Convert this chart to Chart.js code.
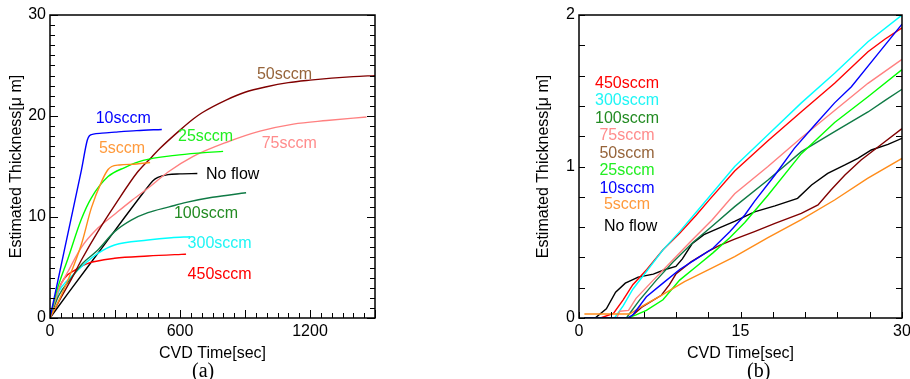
<!DOCTYPE html>
<html>
<head>
<meta charset="utf-8">
<script src="https://cdn.jsdelivr.net/npm/chart.js@4.4.1/dist/chart.umd.min.js"></script>
<style>
  html, body { margin: 0; padding: 0; background: #fff; width: 910px; height: 379px; overflow: hidden; }
  #wrapA { position: absolute; left: 0; top: 0; width: 395px; height: 379px; }
  #wrapB { position: absolute; left: 520px; top: 0; width: 400px; height: 379px; }
  .cap { position: absolute; top: 360px; line-height: 20px; font-family: "Liberation Serif", "Times New Roman", serif; font-size: 20px; color: #000; }
</style>
</head>
<body>
<div id="wrapA"><canvas id="chartA"></canvas></div>
<div id="wrapB"><canvas id="chartB"></canvas></div>
<div class="cap" style="left:192px">(a)</div>
<div class="cap" style="left:747px">(b)</div>
<script>
// ---------- panel (a): long runs, CVD time [sec] vs thickness [um] ----------
const flowNames = ["10sccm", "5sccm", "25sccm", "50sccm", "75sccm", "100sccm", "300sccm", "450sccm", "No flow"];
const lineColors = ["#0000ff", "#ff8c1a", "#00ff00", "#800000", "#ff8080", "#0f7a45", "#00ffff", "#ff0000", "#000000"];
const labelColors = ["#0000ff", "#ff9a3c", "#22ee22", "#96643a", "#ff8c8c", "#228b22", "#1ff5f5", "#ff0000", "#000000"];

const xTicksA = [0, 600, 1200];
const yTicksA = [0, 10, 20, 30];
const xTicksB = [0, 15, 30];
const yTicksB = [0, 1, 2];

const timeA10 = [0, 68, 145, 172, 182, 200, 240, 300, 400, 516];
const thickA10 = [0, 6.9, 14.65, 17.6, 18.05, 18.2, 18.3, 18.4, 18.55, 18.67];
const timeA5 = [0, 40, 83, 145, 191, 240, 268, 285, 320, 400, 462];
const thickA5 = [0, 1.7, 3.76, 7.3, 10.9, 13.6, 14.7, 15.0, 15.15, 15.25, 15.4];
const timeA25 = [0, 30, 83, 145, 191, 268, 345, 430, 577, 700, 799];
const thickA25 = [0, 2.6, 5.9, 9.8, 11.9, 14.0, 14.9, 15.6, 16.1, 16.35, 16.5];
const timeA50 = [0, 50, 100, 145, 221, 300, 406, 470, 508, 600, 661, 700, 815, 900, 1000, 1100, 1200, 1300, 1400, 1500];
const thickA50 = [0, 2.0, 3.9, 5.74, 8.55, 11.2, 14.5, 15.95, 16.8, 18.6, 19.7, 20.3, 21.6, 22.35, 22.9, 23.3, 23.55, 23.75, 23.9, 24.0];
const timeA75 = [0, 40, 83, 145, 221, 300, 375, 452, 545, 661, 815, 969, 1123, 1277, 1461];
const thickA75 = [0, 2.8, 4.6, 7.0, 8.9, 10.3, 11.6, 12.84, 14.45, 16.0, 17.4, 18.5, 19.2, 19.55, 19.9];
const timeA100 = [0, 40, 100, 150, 221, 298, 375, 452, 550, 629, 750, 905];
const thickA100 = [0, 2.2, 4.0, 5.4, 6.73, 8.55, 9.7, 10.43, 11.0, 11.45, 11.95, 12.4];
const timeA300 = [0, 40, 83, 145, 221, 298, 452, 560, 646];
const thickA300 = [0, 2.6, 3.76, 5.08, 6.4, 7.23, 7.72, 7.95, 8.05];
const timeA450 = [0, 21.5, 52, 129, 175, 298, 452, 606, 628];
const thickA450 = [0, 1.45, 3.43, 4.92, 5.41, 5.91, 6.14, 6.3, 6.32];
const timeANo = [0, 83, 221, 452, 475, 498, 545, 600, 680];
const thickANo = [0, 2.44, 6.4, 13.0, 13.6, 13.93, 14.2, 14.27, 14.3];

const timesA = [timeA10, timeA5, timeA25, timeA50, timeA75, timeA100, timeA300, timeA450, timeANo];
const thicksA = [thickA10, thickA5, thickA25, thickA50, thickA75, thickA100, thickA300, thickA450, thickANo];

// ---------- panel (b): first 30 sec ----------
const timeB10 = [0.5, 4.5, 5.0, 6.26, 7.8, 9.35, 10.9, 12.44, 14.0, 15.4, 16.3, 18.2, 20.0, 21.9, 23.74, 25.3, 27.8, 30];
const thickB10 = [0, 0, 0.02, 0.14, 0.23, 0.32, 0.39, 0.46, 0.57, 0.68, 0.77, 0.944, 1.12, 1.274, 1.42, 1.527, 1.747, 1.94];
const timeB5 = [0.5, 4.7, 5.8, 7.65, 9.8, 12.0, 14.46, 17.55, 20.65, 23.74, 26.8, 30];
const thickB5 = [0.026, 0.026, 0.075, 0.15, 0.24, 0.317, 0.405, 0.53, 0.65, 0.779, 0.922, 1.054];
const timeB25 = [0.5, 4.5, 5.3, 6.26, 7.8, 9.35, 10.9, 12.44, 14.0, 15.4, 17.55, 20.65, 23.74, 26.84, 30];
const thickB25 = [0, 0, 0.02, 0.05, 0.12, 0.25, 0.34, 0.43, 0.53, 0.63, 0.81, 1.085, 1.29, 1.46, 1.64];
const timeB50 = [0.5, 4.7, 5.8, 7.65, 8.4, 9.0, 10.4, 12.0, 13.06, 14.46, 16.3, 18.2, 20.65, 22.2, 23.4, 24.7, 26.2, 27.8, 30];
const thickB50 = [0, 0, 0.07, 0.15, 0.22, 0.29, 0.37, 0.44, 0.48, 0.52, 0.57, 0.625, 0.69, 0.746, 0.845, 0.944, 1.043, 1.13, 1.25];
const timeB75 = [0.5, 3.5, 3.8, 4.6, 5.3, 6.9, 8.4, 10.3, 12.4, 14.46, 17.55, 20.65, 23.74, 26.84, 30];
const thickB75 = [0, 0, 0.045, 0.05, 0.13, 0.25, 0.36, 0.5, 0.65, 0.82, 1.0, 1.19, 1.37, 1.549, 1.707];
const timeB100 = [0.5, 4.4, 5.64, 7.19, 8.73, 10.6, 12.44, 14.46, 17.55, 20.65, 23.74, 26.84, 28.5, 30];
const thickB100 = [0, 0, 0.12, 0.25, 0.37, 0.5, 0.61, 0.735, 0.911, 1.098, 1.23, 1.36, 1.44, 1.51];
const timeB300 = [0.5, 3.3, 4.1, 5.0, 6.3, 7.8, 9.35, 10.9, 12.1, 14.46, 17.55, 20.65, 23.74, 26.84, 30];
const thickB300 = [0, 0, 0.08, 0.19, 0.31, 0.45, 0.57, 0.7, 0.8, 1.0, 1.21, 1.42, 1.615, 1.824, 2.0];
const timeB450 = [0.5, 2.0, 3.2, 4.1, 5.0, 6.3, 7.8, 9.35, 10.9, 12.1, 14.46, 17.55, 20.65, 23.74, 26.84, 28.4, 30];
const thickB450 = [0, 0, 0.03, 0.12, 0.22, 0.32, 0.45, 0.56, 0.68, 0.78, 0.97, 1.17, 1.362, 1.549, 1.758, 1.84, 1.915];
const timeBNo = [0.5, 1.5, 2.54, 3.4, 4.3, 5.5, 6.9, 8.0, 9.0, 9.6, 10.5, 11.6, 13.2, 14.5, 16.3, 18.2, 20.3, 21.6, 23.1, 24.7, 25.9, 27.15, 28.7, 30];
const thickBNo = [0, 0, 0.06, 0.17, 0.23, 0.27, 0.29, 0.32, 0.34, 0.39, 0.49, 0.55, 0.6, 0.64, 0.7, 0.74, 0.79, 0.878, 0.955, 1.01, 1.054, 1.109, 1.146, 1.186];

const timesB = [timeB10, timeB5, timeB25, timeB50, timeB75, timeB100, timeB300, timeB450, timeBNo];
const thicksB = [thickB10, thickB5, thickB25, thickB50, thickB75, thickB100, thickB300, thickB450, thickBNo];

// label anchors (data coords)
const labelA_x = [211, 226, 591, 955, 977, 572, 635, 635, 720];
const labelA_y = [19.7, 16.73, 17.97, 24.06, 17.23, 10.3, 7.33, 4.26, 14.16];
const legendB = ["450sccm", "300sccm", "100sccm", "75sccm", "50sccm", "25sccm", "10sccm", "5sccm", "No flow"];
const legendB_y = [1.545, 1.432, 1.314, 1.201, 1.087, 0.970, 0.856, 0.746, 0.603];
const legendB_x = [4.46, 4.46, 4.46, 4.46, 4.46, 4.46, 4.46, 4.46, 4.8];

const FONT = "'Liberation Sans', Arial, Helvetica, sans-serif";

// inward tick marks, frame and text labels
const framePlugin = {
  id: "frame",
  afterDatasetsDraw(chart, args, o) {
    const { ctx, chartArea: a } = chart;
    const xs = chart.scales.x, ys = chart.scales.y;
    ctx.save();
    ctx.strokeStyle = "#000";
    ctx.lineWidth = 1;
    ctx.beginPath();
    for (let i = 0; i <= o.xCount; i++) {
      const px = Math.round(xs.getPixelForValue(i * o.xStep)) + 0.5;
      const len = i % o.xMajor === 0 ? o.majorLen : o.minorLen;
      ctx.moveTo(px, a.bottom);
      ctx.lineTo(px, a.bottom - len);
    }
    for (let i = 0; i <= o.yCount; i++) {
      const py = Math.round(ys.getPixelForValue(i * o.yStep)) + 0.5;
      const len = i % o.yMajor === 0 ? o.majorLen : o.minorLen;
      ctx.moveTo(a.left, py);
      ctx.lineTo(a.left + len, py);
      ctx.moveTo(a.right, py);
      ctx.lineTo(a.right - len, py);
    }
    ctx.stroke();
    ctx.lineWidth = 1.5;
    ctx.strokeRect(a.left, a.top, a.right - a.left, a.bottom - a.top);

    ctx.font = "16px " + FONT;
    ctx.textBaseline = "middle";
    ctx.textAlign = o.align;
    o.texts.forEach((t, i) => {
      ctx.fillStyle = o.colors[i];
      ctx.fillText(t, xs.getPixelForValue(o.lx[i]), ys.getPixelForValue(o.ly[i]));
    });
    ctx.restore();
  }
};

function makeSets(times, thicks, smooth) {
  return flowNames.map((name, i) => ({
    label: name,
    data: times[i].map((t, j) => ({ x: t, y: thicks[i][j] })),
    borderColor: lineColors[i],
    borderWidth: 1.4,
    pointRadius: 0,
    fill: false,
    cubicInterpolationMode: smooth ? "monotone" : "default",
    tension: 0
  }));
}

function axisOpts(max, tickVals, title, fit, titlePad) {
  return {
    type: "linear",
    min: 0, max: max,
    grid: { display: false, drawTicks: false },
    border: { display: false },
    afterBuildTicks: s => { s.ticks = tickVals.map(v => ({ value: v })); },
    ticks: { autoSkip: false, color: "#000", padding: 4, font: { size: 16, family: FONT }, callback: v => String(v) },
    title: { display: true, text: title, color: "#000", font: { size: 16, family: FONT }, padding: titlePad },
    afterFit: fit
  };
}

function makeChart(id, sets, xMax, xVals, yMax, yVals, yW, yTitlePad, padRight, frameOpts) {
  return new Chart(document.getElementById(id), {
    type: "line",
    data: { datasets: sets },
    options: {
      responsive: true,
      maintainAspectRatio: false,
      animation: false,
      layout: { padding: { top: 15, right: padRight, bottom: 0, left: 0 } },
      plugins: { legend: { display: false }, tooltip: { enabled: false }, frame: frameOpts },
      scales: {
        x: axisOpts(xMax, xVals, "CVD Time[sec]", s => { s.height = 61; }, { top: 0, bottom: 16 }),
        y: axisOpts(yMax, yVals, "Estimated Thickness[\u03bc m]", s => { s.width = yW; }, { top: yTitlePad, bottom: 0 })
      }
    },
    plugins: [framePlugin]
  });
}

makeChart("chartA", makeSets(timesA, thicksA, true), 1500, xTicksA, 30, yTicksA, 50, 7, 20, {
  xCount: 30, xStep: 50, xMajor: 6, yCount: 30, yStep: 1, yMajor: 10, majorLen: 8, minorLen: 5,
  texts: flowNames, colors: labelColors, lx: labelA_x, ly: labelA_y, align: "left"
});

const legendColorsB = legendB.map(n => labelColors[flowNames.indexOf(n)]);
makeChart("chartB", makeSets(timesB, thicksB, false), 30, xTicksB, 2, yTicksB, 59, 14, 18, {
  xCount: 10, xStep: 3, xMajor: 5, yCount: 10, yStep: 0.2, yMajor: 5, majorLen: 6, minorLen: 6,
  texts: legendB, colors: legendColorsB, lx: legendB_x, ly: legendB_y, align: "center"
});
</script>
</body>
</html>
